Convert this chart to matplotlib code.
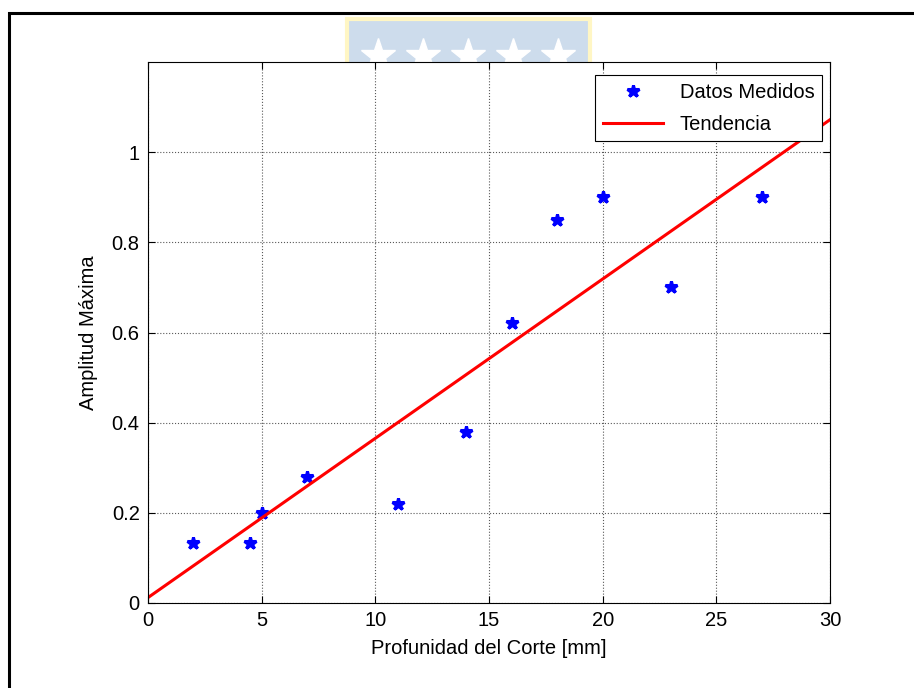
import matplotlib
matplotlib.use("Agg")
import matplotlib.pyplot as plt
from matplotlib.lines import Line2D
from matplotlib.patches import Rectangle

plt.rcParams['font.family'] = ['Liberation Sans', 'DejaVu Sans']

# measured data
profundidad = [2, 4.5, 5, 7, 11, 14, 16, 18, 20, 23, 27]
amplitud = [0.133, 0.133, 0.2, 0.28, 0.22, 0.38, 0.62, 0.85, 0.9, 0.7, 0.9]

# trend line end points
tend_x = [0, 30]
tend_y = [0.012, 1.072]

xticks = [0, 5, 10, 15, 20, 25, 30]
yticks = [0, 0.2, 0.4, 0.6, 0.8, 1.0]
ytick_labels = ['0', '0.2', '0.4', '0.6', '0.8', '1']

W, H = 914, 688
FS = 14.5
fig = plt.figure(figsize=(W / 100, H / 100), dpi=100)

# watermark behind the axes
fig.add_artist(Rectangle((347 / W, 1 - 66 / H), 243 / W, 47 / H,
                         transform=fig.transFigure, facecolor='#cddcec',
                         edgecolor='#fff6c4', linewidth=3, zorder=-5))
star_x = [378, 423, 468, 513, 558]
fig.add_artist(Line2D([x / W for x in star_x], [1 - 56 / H] * 5,
                      transform=fig.transFigure, marker='*', linestyle='none',
                      markersize=26, color='white', zorder=-4))

# outer frame (left and top edges only, rest is cropped)
fig.add_artist(Line2D([9 / W, 9 / W, 1], [0, 1 - 13 / H, 1 - 13 / H],
                      transform=fig.transFigure, color='black', linewidth=2.2,
                      solid_joinstyle='miter'))

ax = fig.add_axes([148 / W, 85 / H, 682 / W, 541 / H])
ax.set_zorder(1)
ax.set_facecolor('white')

ax.plot(profundidad, amplitud, linestyle='none', marker='*', markersize=9,
        markeredgewidth=2.2, color='blue', label='Datos Medidos')
ax.plot(tend_x, tend_y, color='red', linewidth=2.2, label='Tendencia')

ax.set_xlim(0, 30)
ax.set_ylim(0, 1.2)
ax.set_xticks(xticks)
ax.set_yticks(yticks)
ax.set_yticklabels(ytick_labels)
ax.tick_params(direction='in', top=True, right=True, labelsize=FS, length=5,
               width=0.8, pad=6)
ax.grid(True, linestyle=':', color='0.35', linewidth=0.8)
for s in ax.spines.values():
    s.set_linewidth(0.8)

ax.set_xlabel('Profunidad del Corte [mm]', fontsize=FS, labelpad=6)
ax.set_ylabel('Amplitud Máxima', fontsize=FS, labelpad=10)

leg = ax.legend(loc='upper right', bbox_to_anchor=(822 / W, 1 - 75 / H),
                bbox_transform=fig.transFigure, fontsize=FS, fancybox=False,
                edgecolor='black', framealpha=1, handlelength=3.0,
                borderaxespad=0, labelspacing=0.65, borderpad=0.38)
leg.get_frame().set_linewidth(0.8)

fig.savefig('out.png', dpi=100)
